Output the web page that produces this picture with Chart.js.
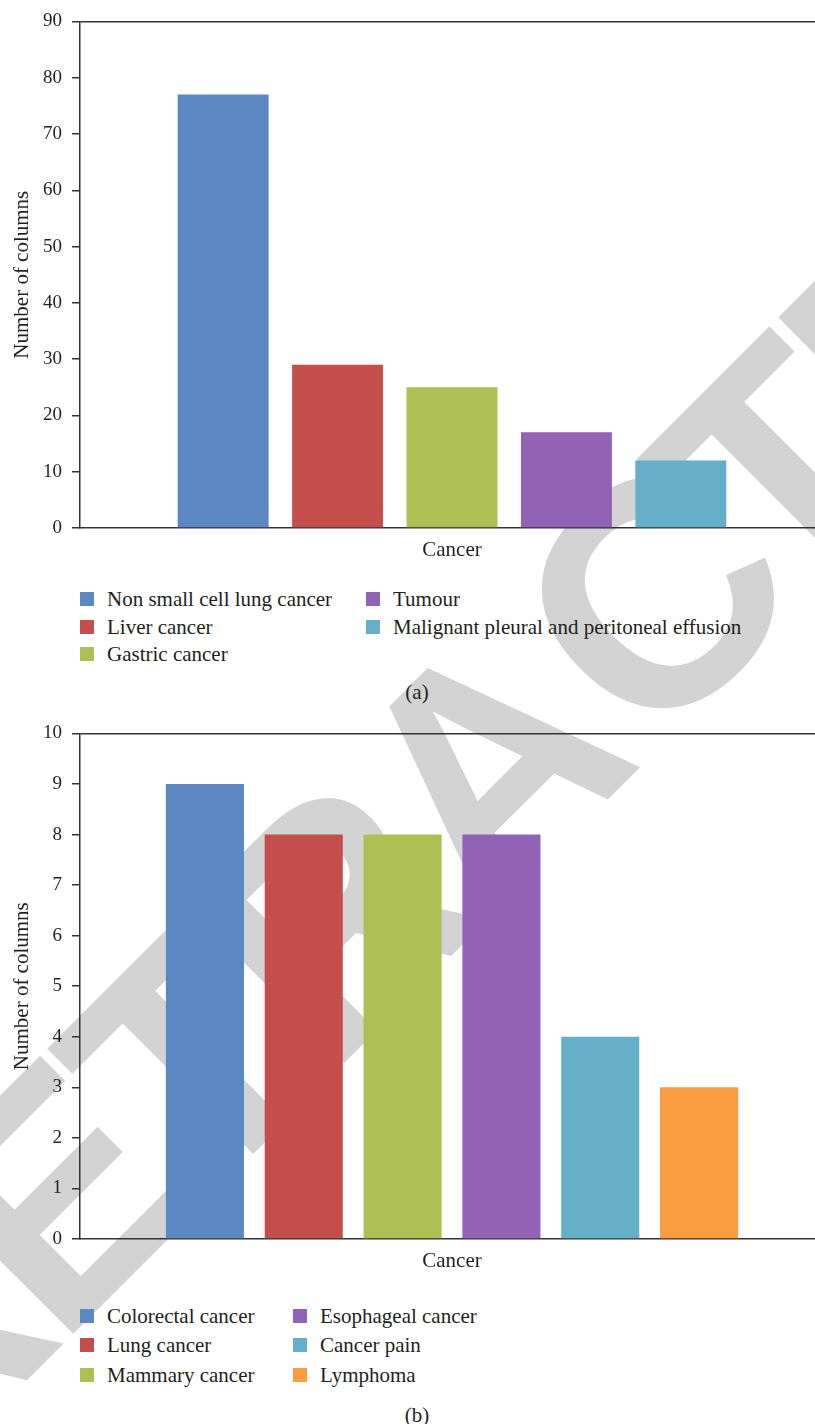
<!DOCTYPE html>
<html><head><meta charset="utf-8">
<script src="https://cdn.jsdelivr.net/npm/chart.js@4.4.1/dist/chart.umd.min.js"></script>
<style>
html,body{margin:0;padding:0;background:#fff;width:815px;height:1424px;overflow:hidden;position:relative;}
.box{position:absolute;left:0;width:824px;z-index:2}
.item{position:absolute;display:flex;align-items:center;white-space:nowrap;height:28px;font-family:"Liberation Serif",serif;font-size:21px;color:#231f20;z-index:2}
.sw{width:14px;height:14px;margin-right:13px;flex:none}
.cap{position:absolute;font-family:"Liberation Serif",serif;font-size:21px;color:#231f20;transform:translate(-50%,-50%);white-space:nowrap;z-index:2}
svg.wm{position:absolute;left:0;top:0;pointer-events:none;z-index:1}
</style></head>
<body>
<svg class="wm" id="wm" width="815" height="1424"><g id="wmg" transform="rotate(-45)"></g></svg>
<div class="box" style="top:0;height:563px"><canvas id="cA" width="824" height="563"></canvas></div>
<div id="legA"></div>
<div class="cap" style="left:417px;top:692px">(a)</div>
<div class="box" style="top:712px;height:562px"><canvas id="cB" width="824" height="562"></canvas></div>
<div id="legB"></div>
<div class="cap" style="left:417px;top:1415px">(b)</div>
<script>
const categories = ['Cancer'];
const seriesA = ['Non small cell lung cancer','Liver cancer','Gastric cancer','Tumour','Malignant pleural and peritoneal effusion'];
const valuesA = [77, 29, 25, 17, 12];
const yMaxA = 90, yStepA = 10;
const seriesB = ['Colorectal cancer','Lung cancer','Mammary cancer','Esophageal cancer','Cancer pain','Lymphoma'];
const valuesB = [9, 8, 8, 8, 4, 3];
const yMaxB = 10, yStepB = 1;
const colors = ['#5b87c2','#c34e4b','#aec053','#9263b4','#65b0c8','#fa9c41'];

const TXT = '#231f20', AX = '#333';

// watermark "RETRACTED" (rotated frame: letter centres along the baseline)
const wmLetters = ['R','E','T','R','A','C','T','E','D'];
const wmCentres = [-1014, -806, -614, -414, -197, 40, 219, 411, 619];
(function () {
  const g = document.getElementById('wmg');
  wmLetters.forEach((ch, i) => {
    const t = document.createElementNS('http://www.w3.org/2000/svg', 'text');
    t.setAttribute('x', wmCentres[i]);
    t.setAttribute('y', 995);
    t.setAttribute('text-anchor', 'middle');
    t.setAttribute('font-family', 'Liberation Sans, Arial, sans-serif');
    t.setAttribute('font-weight', 'bold');
    t.setAttribute('font-size', '320');
    t.setAttribute('fill', '#d3d3d3');
    t.textContent = ch;
    g.appendChild(t);
  });
})();

function makeChart(id, series, values, yMax, step, catPct, barPct) {
  return new Chart(document.getElementById(id), {
    type: 'bar',
    data: {
      labels: categories,
      datasets: series.map((s, i) => ({label: s, data: [values[i]], backgroundColor: colors[i], borderWidth: 0,
        categoryPercentage: catPct, barPercentage: barPct}))
    },
    options: {
      responsive: false, animation: false, devicePixelRatio: 1,
      layout: {padding: {top: 18, left: 0, right: 0, bottom: 0}},
      plugins: {legend: {display: false}, tooltip: {enabled: false}},
      scales: {
        x: {
          grid: {display: true, drawOnChartArea: false, drawTicks: false, color: 'rgba(0,0,0,0)'},
          border: {display: true, color: AX, width: 1.5},
          ticks: {color: TXT, font: {family: 'Liberation Serif', size: 21}, padding: 10},
          afterFit(s) { s.height = 35; }
        },
        y: {
          min: 0, max: yMax,
          ticks: {stepSize: step, color: TXT, font: {family: 'Liberation Serif', size: 19}, padding: 10},
          grid: {color: c => (c.tick && c.tick.value === yMax) ? AX : 'rgba(0,0,0,0)', lineWidth: 1.5,
                 tickColor: AX, tickLength: 8, drawTicks: true},
          border: {display: true, color: AX, width: 1.5},
          title: {display: true, text: 'Number of columns', color: TXT,
                  font: {family: 'Liberation Serif', size: 21}, padding: {top: 10, bottom: 0}},
          afterFit(s) { s.width = 80; }
        }
      }
    }
  });
}

function makeLegend(id, chart, colX, rowY) {
  const el = document.getElementById(id);
  chart.data.datasets.forEach((d, i) => {
    const col = Math.floor(i / 3), row = i % 3;
    const it = document.createElement('div');
    it.className = 'item';
    it.style.left = colX[col] + 'px';
    it.style.top = (rowY[row] - 14) + 'px';
    const sw = document.createElement('span');
    sw.className = 'sw';
    sw.style.background = d.backgroundColor;
    const tx = document.createElement('span');
    tx.textContent = d.label;
    it.appendChild(sw); it.appendChild(tx);
    el.appendChild(it);
  });
}

const chartA = makeChart('cA', seriesA, valuesA, yMaxA, yStepA, 0.769, 0.795);
const chartB = makeChart('cB', seriesB, valuesB, yMaxB, yStepB, 0.797, 0.79);
makeLegend('legA', chartA, [80, 366], [599, 627, 654]);
makeLegend('legB', chartB, [80, 293], [1316, 1345, 1375]);
</script>
</body></html>
